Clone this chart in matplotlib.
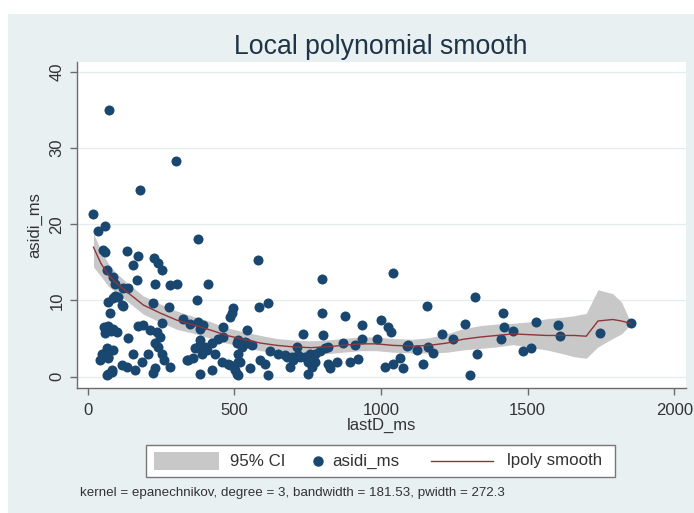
import matplotlib
matplotlib.use("Agg")
import matplotlib.pyplot as plt
from matplotlib.lines import Line2D
from matplotlib.patches import Rectangle

plt.rcParams["font.family"] = ["Liberation Sans", "DejaVu Sans"]

# ---------------------------------------------------------------------------
# Data
# ---------------------------------------------------------------------------
last_d = [
    20, 37, 60, 54, 60, 65, 72, 88, 94, 71, 88, 105, 116, 122, 94, 77,
    55, 71, 88, 99, 60, 80, 48, 71, 88, 65, 43, 54, 71, 71, 82, 65, 82, 116,
    122, 139, 133, 173, 156, 227, 241, 255, 168, 230, 281, 304, 224, 279,
    372, 326, 349, 173, 190, 213, 236, 247, 139, 230, 156, 185, 207, 253,
    259, 134, 162, 230, 224, 281, 343, 360, 378, 383, 378, 395, 383, 179,
    302, 378, 253, 241, 338, 366, 389, 383,
    412, 497, 491, 486, 582, 585, 616, 542, 463, 463, 446, 400, 423, 434,
    406, 423, 457, 480, 514, 503, 514, 508, 486, 554, 508, 525, 542, 559,
    514, 520, 514, 537, 588, 605, 616, 622, 650, 673, 696, 701, 679, 690,
    713, 718, 724, 735, 741, 752, 758, 764, 752, 769, 775, 792, 775, 798,
    798, 803, 809, 820, 820, 826, 849, 872, 877, 894, 911, 923, 934, 934,
    985, 1002, 1025, 1036, 1040, 1014, 1042, 1065, 1076, 1088,
    1093, 1122, 1156, 1161, 1178, 1144, 1207, 1246, 1286, 1303, 1320, 1326,
    1417, 1419, 1451, 1408, 1485, 1513, 1528, 1604, 1610, 1746, 1851,
]
asidi = [
    21.4, 19.1, 19.8, 16.6, 16.4, 14.0, 35.0, 13.1, 12.2, 9.8, 10.3, 10.5,
    9.4, 9.3, 10.6, 8.3, 6.5, 6.6, 6.3, 5.9, 5.7, 6.0, 3.0, 2.6, 3.5, 3.7,
    2.2, 3.0, 2.4, 0.3, 0.6, 0.2, 0.9, 1.5,
    11.6, 11.7, 16.5, 15.8, 14.6, 15.6, 14.9, 14.0, 12.7, 12.1, 12.0, 12.1,
    9.6, 9.1, 10.1, 7.6, 6.9, 6.6, 6.8, 6.1, 5.9, 5.2, 5.1, 4.4, 3.0, 1.9,
    3.0, 3.0, 2.2, 1.3, 0.9, 1.1, 0.5, 1.3, 2.2, 2.5, 3.9, 4.8, 7.2, 6.8,
    0.4, 24.5, 28.3, 18.1, 7.0, 3.9, 2.2, 3.7, 3.0, 6.3,
    12.2, 9.0, 8.3, 7.8, 15.3, 9.2, 9.6, 6.1, 6.5, 5.2, 5.0, 3.9, 4.4, 3.0,
    3.5, 0.9, 1.9, 1.7, 1.9, 0.9, 0.2, 0.4, 1.5, 1.1, 4.4, 3.9, 4.4, 4.1,
    3.0, 1.9, 4.8, 4.6, 2.2, 1.7, 0.2, 3.3, 3.0, 2.8, 2.6, 2.2, 2.6, 1.3,
    3.9, 2.8, 2.6, 5.6, 2.6, 1.9, 3.0, 1.3, 0.4, 2.4, 3.0, 3.3, 1.9, 12.8,
    8.3, 5.4, 3.8, 3.9, 1.7, 1.1, 1.9, 4.4, 7.9, 1.9, 4.1, 2.3, 6.8, 4.9,
    5.0, 7.4, 6.5, 5.9, 13.6, 1.3, 1.7, 2.5, 1.1, 4.0,
    4.1, 3.5, 9.3, 3.9, 3.1, 1.7, 5.6, 4.9, 6.9, 0.2, 10.4, 3.0,
    8.4, 6.5, 6.0, 5.0, 3.3, 3.8, 7.2, 6.8, 5.3, 5.7, 7.0,
]

# lpoly fit and its 95% band, read at a set of grid points
grid_x = [20, 45, 70, 95, 135, 190, 250, 305, 360, 420, 475, 530, 590, 645,
          700, 760, 815, 870, 930, 985, 1040, 1110, 1165, 1225, 1280, 1340,
          1395, 1450, 1510, 1565, 1620, 1660, 1700, 1740, 1790, 1820, 1851]
fit = [17.0, 14.9, 13.4, 12.4, 11.1, 9.4, 8.3, 7.4, 6.8, 6.1, 5.4, 4.9, 4.4,
       4.1, 3.9, 3.8, 3.9, 4.1, 4.3, 4.3, 4.1, 4.0, 4.1, 4.4, 4.9, 5.2, 5.4,
       5.6, 5.5, 5.4, 5.4, 5.4, 5.3, 7.3, 7.5, 7.3, 7.0]
upper = [18.8, 16.6, 14.9, 13.7, 12.3, 10.6, 9.5, 8.6, 7.9, 7.2, 6.4, 5.9,
         5.4, 5.0, 4.8, 4.7, 4.8, 5.0, 5.2, 5.2, 5.0, 4.9, 5.1, 5.6, 6.3, 6.7,
         6.9, 7.0, 7.2, 7.6, 7.8, 8.0, 8.3, 11.4, 10.9, 9.8, 7.2]
lower = [14.4, 13.2, 11.9, 11.1, 9.9, 8.2, 7.1, 6.2, 5.7, 5.0, 4.4, 3.9, 3.4,
         3.2, 3.0, 2.9, 3.0, 3.2, 3.4, 3.4, 3.2, 3.1, 3.1, 3.2, 3.5, 3.7, 3.9,
         4.2, 3.8, 3.5, 3.0, 2.6, 2.4, 3.9, 5.0, 5.6, 6.8]

x_ticks = [0, 500, 1000, 1500, 2000]
y_ticks = [0, 10, 20, 30, 40]
legend_labels = ["95% CI", "asidi_ms", "lpoly smooth"]
note = "kernel = epanechnikov, degree = 3, bandwidth = 181.53, pwidth = 272.3"

# ---------------------------------------------------------------------------
# Figure — Stata s2color look
# ---------------------------------------------------------------------------
BG = "#e9f0f2"
NAVY = "#1a476f"
MAROON = "#90353b"
BAND = "#c8c8c8"
TXT = "#333333"
W, H = 694, 513


def fx(px):
    return px / W


def fy(py):
    return 1 - py / H


fig = plt.figure(figsize=(6.94, 5.13), dpi=100, facecolor="white")
fig.patches.append(Rectangle((fx(8), 0), 1, fy(14), transform=fig.transFigure,
                             facecolor=BG, edgecolor="none", zorder=-10))

ax = fig.add_axes([0.111, 0.2437, 0.877, 0.635])
ax.set_facecolor("white")

ax.fill_between(grid_x, lower, upper, color=BAND, linewidth=0, zorder=2)
ax.scatter(last_d, asidi, s=52, color=NAVY, linewidths=0, zorder=3)
ax.plot(grid_x, fit, color=MAROON, linewidth=1.0, zorder=4)

ax.set_xlim(-36, 2039)
ax.set_ylim(-1.5, 41.3)
ax.set_xticks(x_ticks)
ax.set_yticks(y_ticks)
ax.grid(axis="y", color="#e4eced", linewidth=0.9, zorder=0)
ax.set_axisbelow(True)

for side in ("top", "right"):
    ax.spines[side].set_visible(False)
for side in ("left", "bottom"):
    ax.spines[side].set_color("#6b6b6b")
    ax.spines[side].set_linewidth(1.0)

ax.tick_params(direction="out", length=5, width=1, color="#6b6b6b",
               labelsize=12, labelcolor=TXT)
ax.tick_params(axis="x", pad=6)
ax.tick_params(axis="y", pad=4)
plt.setp(ax.get_yticklabels(), rotation=90, va="center")

ax.set_xlabel("lastD_ms", fontsize=12, color=TXT, labelpad=0)
ax.set_ylabel("asidi_ms", fontsize=12, color=TXT, labelpad=5)
fig.text(0.548, fy(47), "Local polynomial smooth", ha="center",
         va="center", fontsize=19.2, color="#1f3447")

# legend drawn by hand so each key gets Stata's own width
fig.patches.append(Rectangle((fx(146), fy(477)), fx(615) - fx(146),
                             fy(445) - fy(477), transform=fig.transFigure,
                             facecolor="white", edgecolor="#777777",
                             linewidth=1.0))
fig.patches.append(Rectangle((fx(154), fy(470)), fx(219) - fx(154),
                             fy(452) - fy(470), transform=fig.transFigure,
                             facecolor=BAND, edgecolor="none"))
fig.lines.append(Line2D([fx(318)], [fy(461)], marker="o", color=NAVY,
                        markersize=6.5, linestyle="none",
                        transform=fig.transFigure))
fig.lines.append(Line2D([fx(431), fx(493)], [fy(461), fy(461)], color=MAROON,
                        linewidth=1.0, transform=fig.transFigure))
for px, label in zip([230, 332, 507], legend_labels):
    fig.text(fx(px), fy(461), label, ha="left", va="center", fontsize=12.2,
             color=TXT)

fig.text(fx(80), fy(493), note, ha="left", va="center", fontsize=9.6,
         color=TXT)

fig.savefig("out.png", dpi=100, facecolor="white")
